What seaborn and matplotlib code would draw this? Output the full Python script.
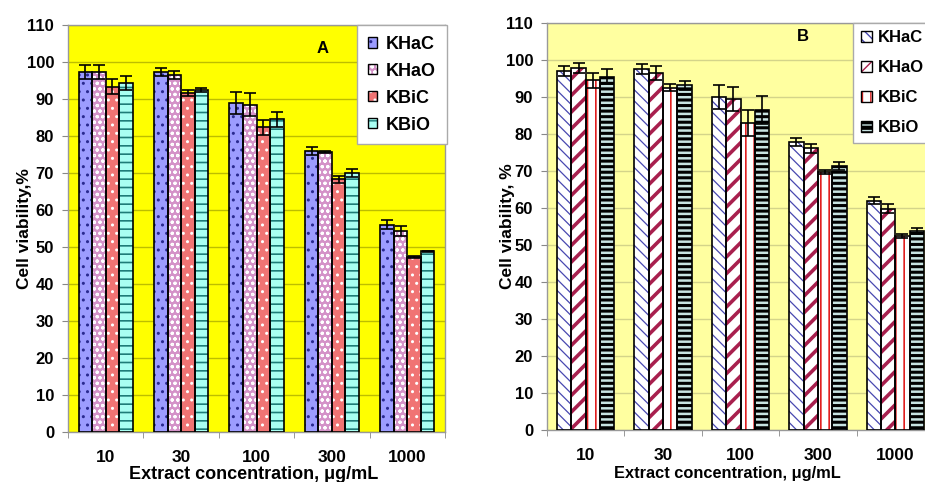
import matplotlib
matplotlib.use("Agg")
import matplotlib.pyplot as plt
from matplotlib.patches import Rectangle, Patch
from matplotlib.legend_handler import HandlerTuple
import seaborn as sns
import pandas as pd

plt.rcParams['font.family'] = ['Liberation Sans', 'DejaVu Sans']
plt.rcParams['font.weight'] = 'bold'

concentrations = ['10', '30', '100', '300', '1000']
series = ['KHaC', 'KHaO', 'KBiC', 'KBiO']

# Panel A values and errors
a_khac = [97.3, 97.3, 89.0, 76.0, 56.0]
a_khao = [97.3, 96.5, 88.5, 75.7, 54.3]
a_kbic = [93.3, 91.5, 82.3, 68.3, 47.3]
a_kbio = [94.3, 92.5, 84.5, 70.0, 48.8]
a_err_khac = [2.0, 1.0, 3.0, 1.0, 1.2]
a_err_khao = [1.8, 1.0, 3.0, 0.3, 1.3]
a_err_kbic = [2.0, 0.8, 2.0, 1.0, 0.3]
a_err_kbio = [1.8, 0.5, 2.0, 1.0, 0.2]

# Panel B values and errors
b_khac = [97.0, 97.5, 90.0, 77.8, 62.0]
b_khao = [97.8, 96.5, 89.5, 76.2, 59.8]
b_kbic = [94.5, 92.5, 83.0, 69.7, 52.5]
b_kbio = [95.5, 93.2, 86.5, 71.3, 53.7]
b_err_khac = [1.3, 1.3, 3.2, 1.0, 1.0]
b_err_khao = [1.3, 2.0, 3.2, 1.2, 1.2]
b_err_kbic = [2.0, 1.0, 3.5, 0.5, 0.5]
b_err_kbio = [2.0, 1.2, 3.7, 1.0, 0.8]

y_ticks = list(range(0, 111, 10))


def make_df(vals):
    rows = []
    for s, v in zip(series, vals):
        for c, x in zip(concentrations, v):
            rows.append({'conc': c, 'series': s, 'val': x})
    return pd.DataFrame(rows)


df_a = make_df([a_khac, a_khao, a_kbic, a_kbio])
df_b = make_df([b_khac, b_khao, b_kbic, b_kbio])
errs_a = [a_err_khac, a_err_khao, a_err_kbic, a_err_kbio]
errs_b = [b_err_khac, b_err_khao, b_err_kbic, b_err_kbio]

# styles: (fill, hatch, hatch colour, hatch lw)
style_a = [('#9C9CFF', '..', '#2A2A90', 1.0),
           ('#D492C8', 'ooo', '#FFFFFF', 0.8),
           ('#F07474', '..', '#FFFFFF', 1.0),
           ('#A8FFF2', '--', '#1E7C78', 1.2)]
style_b = [('#FFFFFF', '\\\\\\', '#4848B0', 0.9),
           ('#FFFFFF', '//', '#A8204E', 2.6),
           ('#FFFFFF', '||', '#E02020', 1.2),
           ('#000000', '---', '#C8E4E2', 1.8)]

fig = plt.figure(figsize=(9.25, 4.82), dpi=100)
ax_a = fig.add_axes([68/925, 1-432/482, 377/925, 407/482])
ax_b = fig.add_axes([547/925, 1-430/482, 387/925, 407/482])


def style_hatch(p, hatch, hcol, hlw):
    p.set_hatch(hatch)
    p.set_edgecolor(hcol)
    p.set_linewidth(0)
    if hasattr(p, 'set_hatch_linewidth'):
        p.set_hatch_linewidth(hlw)


def draw_panel(ax, df, errs, styles, bg, gridc, width, letter, letter_xy,
               ylabel, ylab_x, xlab_x, xlab_y, xlab_size, leg_anchor, leg_kw):
    sns.barplot(data=df, x='conc', y='val', hue='series', order=concentrations,
                hue_order=series, palette=[s[0] for s in styles], saturation=1,
                width=width, errorbar=None, legend=False, ax=ax, zorder=2)
    ax.set_facecolor(bg)
    bar_conts = list(ax.containers)
    for i, cont in enumerate(bar_conts):
        fill, hatch, hcol, hlw = styles[i]
        for bar, e in zip(cont, errs[i]):
            style_hatch(bar, hatch, hcol, hlw)
            ax.add_patch(Rectangle(bar.get_xy(), bar.get_width(), bar.get_height(),
                                   fill=False, ec='black', lw=1.2, zorder=3))
            ax.errorbar(bar.get_x() + bar.get_width()/2, bar.get_height(), yerr=e,
                        fmt='none', ecolor='black', elinewidth=1.2, capsize=4,
                        capthick=1.2, zorder=4)
    ax.set_ylim(0, 110)
    ax.set_xlim(-0.5, len(concentrations) - 0.5)
    ax.set_yticks(y_ticks)
    ax.set_yticklabels([str(t) for t in y_ticks], fontsize=12, fontweight='bold')
    ax.yaxis.grid(True, color=gridc, lw=1.0, zorder=0)
    ax.set_axisbelow(True)
    ax.set_xticks(range(len(concentrations)))
    ax.set_xticklabels(concentrations, fontsize=12.5, fontweight='bold')
    ax.set_xticks([i - 0.5 for i in range(len(concentrations) + 1)], minor=True)
    ax.tick_params(axis='x', which='major', length=0, pad=13)
    ax.tick_params(axis='x', which='minor', length=4, color='#888888')
    ax.tick_params(axis='y', length=4, color='#888888', pad=6)
    for sp in ax.spines.values():
        sp.set_color('#999999')
        sp.set_linewidth(1.0)
    ax.set_xlabel('Extract concentration, \u03bcg/mL', fontsize=xlab_size,
                  fontweight='bold')
    ax.xaxis.set_label_coords(xlab_x, xlab_y)
    ax.set_ylabel(ylabel, fontsize=12.5, fontweight='bold')
    ax.yaxis.set_label_coords(ylab_x, 0.5)
    ax.text(letter_xy[0], letter_xy[1], letter, transform=ax.transAxes, fontsize=12,
            fontweight='bold', ha='center', va='center')
    handles = []
    for fill, hatch, hcol, hlw in styles:
        h1 = Patch(facecolor=fill, hatch=hatch, edgecolor=hcol, lw=0)
        h2 = Patch(facecolor='none', edgecolor='black', lw=1)
        handles.append((h1, h2))
    leg = fig.legend(handles, series, loc='upper left', bbox_to_anchor=leg_anchor,
                     bbox_transform=fig.transFigure, frameon=True, fancybox=False,
                     framealpha=1, edgecolor='#AAAAAA', borderaxespad=0,
                     handler_map={tuple: HandlerTuple(ndivide=1)},
                     **leg_kw)
    leg.get_frame().set_linewidth(1.0)
    return leg


draw_panel(ax_a, df_a, errs_a, style_a, '#FFFF00', '#BDBD00', 0.72, 'A',
           (0.674, 0.943), 'Cell viability,%', -0.095, 0.493, -0.083, 13,
           (357/925, 1-25/482),
           dict(prop={'size': 13, 'weight': 'bold'}, handlelength=0.5,
                handleheight=0.5, handletextpad=0.5, labelspacing=0.55,
                borderpad=0.6))
draw_panel(ax_b, df_b, errs_b, style_b, '#FFFFA0', '#D4D48A', 0.74, 'B',
           (0.661, 0.966), 'Cell viability, %', -0.083, 0.465, -0.088, 11.8,
           (853/925, 1-23/482),
           dict(prop={'size': 12, 'weight': 'bold'}, handlelength=0.66,
                handleheight=0.66, handletextpad=0.4, labelspacing=0.9,
                borderpad=0.45))

fig.savefig('out.png', dpi=100)
